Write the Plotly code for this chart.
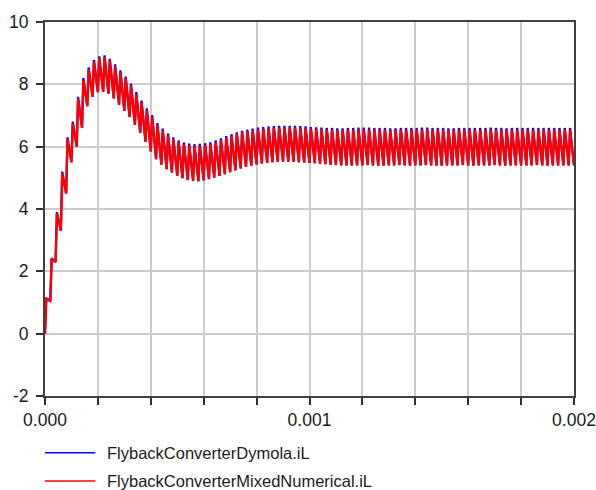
import plotly.graph_objects as go

# ---- data ----
# switching period (100 cycles over 0..0.002 s) and rise fraction of each cycle
period = 20e-6
rise_fraction = 0.25

# per-cycle peak of FlybackConverterDymola.iL
dymola_peak = [
    1.14, 2.42, 3.90, 5.20, 6.30, 6.80, 7.60, 8.20, 8.54, 8.78,
    8.90, 8.93, 8.82, 8.64, 8.45, 8.25, 8.02, 7.75, 7.48, 7.23,
    7.01, 6.76, 6.58, 6.42, 6.30, 6.20, 6.13, 6.10, 6.08, 6.09,
    6.11, 6.14, 6.20, 6.27, 6.34, 6.40, 6.46, 6.51, 6.55, 6.58,
    6.61, 6.63, 6.65, 6.66, 6.67, 6.67, 6.67, 6.67, 6.66, 6.65,
    6.63, 6.62, 6.61, 6.60, 6.60, 6.59, 6.59, 6.60, 6.60, 6.61,
    6.61, 6.61, 6.60, 6.60, 6.60, 6.59, 6.59, 6.60, 6.60, 6.60,
    6.60, 6.61, 6.61, 6.60, 6.60, 6.60, 6.59, 6.59, 6.60, 6.60,
    6.60, 6.60, 6.60, 6.60, 6.61, 6.60, 6.60, 6.59, 6.60, 6.60,
    6.60, 6.60, 6.60, 6.60, 6.60, 6.60, 6.60, 6.60, 6.60, 6.60,
]

# per-cycle peak of FlybackConverterMixedNumerical.iL
mixed_peak = [
    1.12, 2.40, 3.86, 5.15, 6.24, 6.74, 7.54, 8.14, 8.48, 8.72,
    8.84, 8.87, 8.76, 8.58, 8.39, 8.19, 7.96, 7.69, 7.42, 7.17,
    6.95, 6.70, 6.52, 6.36, 6.24, 6.14, 6.07, 6.04, 6.02, 6.03,
    6.05, 6.08, 6.14, 6.21, 6.28, 6.34, 6.40, 6.45, 6.49, 6.52,
    6.55, 6.57, 6.59, 6.60, 6.61, 6.61, 6.61, 6.61, 6.60, 6.59,
    6.57, 6.56, 6.55, 6.54, 6.54, 6.53, 6.53, 6.54, 6.54, 6.55,
    6.55, 6.55, 6.54, 6.54, 6.54, 6.53, 6.53, 6.54, 6.54, 6.54,
    6.54, 6.55, 6.55, 6.54, 6.54, 6.54, 6.53, 6.53, 6.54, 6.54,
    6.54, 6.54, 6.54, 6.54, 6.55, 6.54, 6.54, 6.53, 6.54, 6.54,
    6.54, 6.54, 6.54, 6.54, 6.54, 6.54, 6.54, 6.54, 6.54, 6.54,
]

# per-cycle valley (value at the start of each cycle), shared by both
cycle_valley = [
    0.00, 1.05, 2.30, 3.30, 4.50, 5.50, 6.00, 6.60, 7.30, 7.60,
    7.75, 7.76, 7.70, 7.55, 7.35, 7.15, 6.95, 6.70, 6.45, 6.15,
    5.85, 5.60, 5.42, 5.28, 5.17, 5.07, 4.99, 4.93, 4.90, 4.89,
    4.92, 4.96, 5.01, 5.06, 5.12, 5.18, 5.24, 5.30, 5.35, 5.39,
    5.43, 5.46, 5.48, 5.50, 5.51, 5.52, 5.52, 5.51, 5.50, 5.49,
    5.48, 5.47, 5.45, 5.44, 5.42, 5.41, 5.40, 5.40, 5.39, 5.40,
    5.40, 5.41, 5.40, 5.39, 5.39, 5.40, 5.40, 5.41, 5.40, 5.39,
    5.40, 5.40, 5.41, 5.40, 5.39, 5.39, 5.40, 5.40, 5.40, 5.41,
    5.40, 5.39, 5.40, 5.40, 5.40, 5.41, 5.40, 5.39, 5.40, 5.40,
    5.40, 5.40, 5.40, 5.41, 5.40, 5.39, 5.40, 5.40, 5.40, 5.40,
]
end_value = 5.40

x_tick_values = [0.0, 0.0002, 0.0004, 0.0006, 0.0008, 0.001,
                 0.0012, 0.0014, 0.0016, 0.0018, 0.002]
x_tick_labels = ["0.000", "", "", "", "", "0.001", "", "", "", "", "0.002"]
y_tick_values = [-2, 0, 2, 4, 6, 8, 10]
y_tick_labels = ["-2", "0", "2", "4", "6", "8", "10"]

series_names = ["FlybackConverterDymola.iL", "FlybackConverterMixedNumerical.iL"]
series_colors = ["#0000ff", "#ff0000"]
series_widths = [2.2, 2.4]


def build_wave(peaks, valleys, last):
    t, v = [], []
    for k, (pk, vl) in enumerate(zip(peaks, valleys)):
        t.append(k * period)
        v.append(vl)
        t.append((k + rise_fraction) * period)
        v.append(pk)
    t.append(len(peaks) * period)
    v.append(last)
    return t, v


fig = go.Figure()
for name, color, width, peaks in zip(series_names, series_colors, series_widths,
                                     [dymola_peak, mixed_peak]):
    t, v = build_wave(peaks, cycle_valley, end_value)
    fig.add_trace(go.Scatter(x=t, y=v, mode="lines", name=name,
                             showlegend=False,
                             line=dict(color=color, width=width)))

# legend drawn below the plot (line sample + label for each series)
legend_rows_y = [-0.152, -0.227]
for name, color, ly in zip(series_names, series_colors, legend_rows_y):
    fig.add_shape(type="line", xref="paper", yref="paper",
                  x0=0.0, x1=0.095, y0=ly, y1=ly,
                  line=dict(color=color, width=1.5))
    fig.add_annotation(xref="paper", yref="paper", x=0.113, y=ly,
                       xanchor="left", yanchor="middle", showarrow=False,
                       text=name, font=dict(size=16.5, color="#1a1a1a"))

font_family = "Liberation Sans, Arial, sans-serif"
fig.update_layout(
    width=596, height=490,
    margin=dict(l=45, r=22, t=22, b=94, autoexpand=False),
    paper_bgcolor="white", plot_bgcolor="white",
    font=dict(family=font_family, size=17.5, color="#1a1a1a"),
    showlegend=False,
)
fig.update_xaxes(range=[0, 0.002], tickmode="array", automargin=False,
                 tickvals=x_tick_values, ticktext=x_tick_labels,
                 showgrid=True, gridcolor="#cccccc", gridwidth=2,
                 showline=True, linecolor="#404040", linewidth=2, mirror=True,
                 ticks="outside", ticklen=7, tickwidth=2, tickcolor="#303030",
                 zeroline=False)
fig.update_yaxes(range=[-2, 10], tickmode="array", automargin=False,
                 tickvals=y_tick_values, ticktext=y_tick_labels,
                 showgrid=True, gridcolor="#cccccc", gridwidth=2,
                 showline=True, linecolor="#404040", linewidth=2, mirror=True,
                 ticks="outside", ticklen=7, tickwidth=2, tickcolor="#303030",
                 zeroline=False, ticklabelstandoff=4)

fig.write_html("out.html",
               config={"displayModeBar": False},
               post_script="document.body.style.margin='0';"
                           "document.body.style.overflow='hidden';")
